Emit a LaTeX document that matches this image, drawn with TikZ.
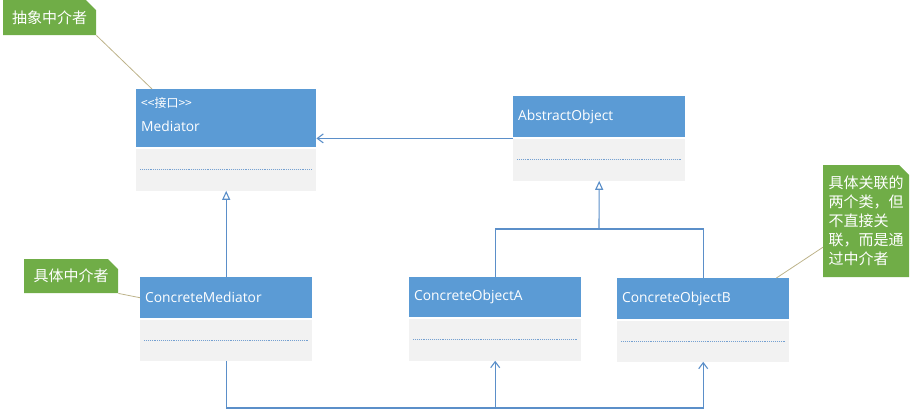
\documentclass[tikz,border=0pt]{standalone}
\usepackage{fontspec}
\setmainfont{Open Sans}
\newfontfamily\cjk{Noto Sans CJK SC}
\usetikzlibrary{arrows.meta,shapes.misc}
\definecolor{headblue}{HTML}{5B9BD5}
\definecolor{bodygray}{HTML}{F2F2F2}
\definecolor{notegreen}{HTML}{70AD47}
\definecolor{lineblue}{HTML}{5B8FC9}
\definecolor{leader}{HTML}{BDB38A}
\tikzset{
  clshead/.style={fill=headblue,text=white,anchor=north west,inner xsep=5pt,
    text width=162pt,align=left,font=\fontsize{13.8}{16}\selectfont},
  clsbody/.style={fill=bodygray,anchor=north,minimum width=172pt,inner sep=0pt},
  dotline/.style={densely dotted,draw=lineblue!85,line width=0.9pt},
  note/.style={chamfered rectangle,chamfered rectangle corners=north east,
    chamfered rectangle xsep=5pt,chamfered rectangle ysep=5pt,
    fill=notegreen,text=white,anchor=north west,inner sep=0pt,
    font=\cjk\fontsize{15}{19}\selectfont},
  link/.style={draw=lineblue,line width=1.1pt},
  gen/.style={link,-{Triangle[open,length=9pt,width=8pt,fill=white]}},
  assoc/.style={link,-{Straight Barb[length=6pt,width=9pt]}},
  leaderline/.style={draw=leader,line width=0.8pt}
}
\begin{document}
\begin{tikzpicture}[x=1pt,y=-1pt]
  \useasboundingbox (0,0) rectangle (921,410);
  %% Classes
  \node[clshead,text width=170pt,minimum height=58pt] (med) at (136,89)
    {{\cjk\fontsize{12}{13}\selectfont <<接口>>}\\[8pt]Mediator\rule[-7pt]{0pt}{7pt}};
  \node[clsbody,minimum width=180pt,minimum height=42pt] (medb) at ([yshift=-1pt]med.south) {};
  \node[clshead,minimum height=41pt] (abs) at (513,96) {AbstractObject};
  \node[clsbody,minimum height=42pt] (absb) at ([yshift=-1pt]abs.south) {};
  \node[clshead,minimum height=41pt] (cmed) at (140,277) {ConcreteMediator};
  \node[clsbody,minimum height=41pt] (cmedb) at ([yshift=-1pt]cmed.south) {};
  \node[clshead,minimum height=40pt] (coa) at (409,277) {ConcreteObjectA};
  \node[clsbody,minimum height=42pt] (coab) at ([yshift=-1pt]coa.south) {};
  \node[clshead,minimum height=41pt] (cob) at (617,278) {ConcreteObjectB};
  \node[clsbody,minimum height=41pt] (cobb) at ([yshift=-1pt]cob.south) {};
  \foreach \b in {medb,absb,cmedb,coab,cobb}
    \draw[dotline] ([xshift=4pt]\b.west) -- ([xshift=-4pt]\b.east);
  %% Notes
  \node[note,minimum width=93pt,minimum height=35pt] (n1) at (3,0) {抽象中介者};
  \node[note,minimum width=94pt,minimum height=34pt] (n2) at (24,259) {具体中介者};
  \node[note,minimum width=86pt,minimum height=112pt,align=left] (n3) at (823,165)
    {具体关联的\\两个类，但\\不直接关\\联，而是通\\过中介者};
  \draw[leaderline] (n1.south east) -- ([xshift=16pt]med.north west);
  \draw[leaderline] (n2.south east) -- (cmed.west);
  \draw[leaderline] ([yshift=-26pt]n3.west) -- ([xshift=-13pt]cob.north east);
  %% Relations
  \draw[assoc] (absb.north west) -- (absb.north west -| med.east);
  \draw[gen] (cmed.north) -- (medb.south);
  \coordinate (fork) at (599,229);
  \coordinate (bus) at (226,408);
  \draw[link] (coa.north) |- (fork) -| (cob.north);
  \draw[gen] (fork) -- (absb.south);
  \draw[link] (cmedb.south) |- (bus -| coab.south);
  \draw[assoc] (bus -| coab.south) -- (coab.south);
  \draw[assoc] (bus -| coab.south) -| (cobb.south);
\end{tikzpicture}
\end{document}
